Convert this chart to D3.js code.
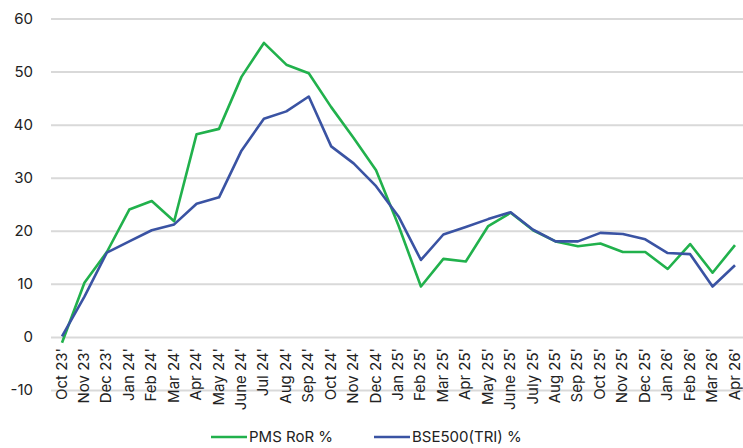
<!DOCTYPE html>
<html>
  <head>
    <meta charset="utf-8">
    <style>
      body {margin: 0; background: #fff;}
      * {font-family: "Inter", sans-serif;}
    </style>
    <script src="https://d3js.org/d3.v7.min.js"></script>
  </head>
  <body>
    <div id="chart"></div>
    <script>
      const months = ["Oct 23'", "Nov 23'", "Dec 23'", "Jan 24'", "Feb 24'", "Mar 24'", "Apr 24'", "May 24'",
                      "June 24'", "Jul 24'", "Aug 24'", "Sep 24'", "Oct 24'", "Nov 24'", "Dec 24'", "Jan 25'",
                      "Feb 25'", "Mar 25'", "Apr 25'", "May 25'", "June 25'", "July 25'", "Aug 25'", "Sep 25'",
                      "Oct 25'", "Nov 25'", "Dec 25'", "Jan 26'", "Feb 26'", "Mar 26'", "Apr 26'"]
      const pms = [-1.1, 10.2, 16.0, 24.0, 25.6, 21.8, 38.2, 39.2, 49.0, 55.4, 51.3, 49.7, 43.3, 37.5, 31.4, 21.0,
                   9.5, 14.7, 14.2, 20.9, 23.4, 20.1, 18.0, 17.1, 17.6, 16.0, 16.0, 12.8, 17.5, 12.1, 17.3]
      const bse = [0.1, 7.6, 15.9, 18.0, 20.1, 21.2, 25.1, 26.3, 35.1, 41.1, 42.5, 45.3, 35.9, 32.7, 28.4, 22.7,
                   14.5, 19.3, 20.7, 22.2, 23.5, 20.2, 18.0, 18.0, 19.6, 19.4, 18.4, 15.8, 15.6, 9.5, 13.5]
      const yTicks = [-10, 0, 10, 20, 30, 40, 50, 60]
      const seriesNames = ["PMS RoR %", "BSE500(TRI) %"]
      const seriesColors = ["#21b14c", "#3a53a3"]

      const w = 743, h = 448

      const svg = d3.select("#chart").append("svg")
        .attr("width", w).attr("height", h)

      const x = d3.scalePoint().domain(months).range([62, 735])
      const y = d3.scaleLinear().domain([-10, 60]).range([390, 18.5])

      // gridlines + y labels
      const yAxis = svg.append("g")
        .attr("transform", "translate(51,0)")
        .call(d3.axisLeft(y).tickValues(yTicks).tickSize(-(w - 51)).tickPadding(18).tickFormat(d => String(d)))
      yAxis.select(".domain").remove()
      yAxis.selectAll(".tick line").attr("stroke", "#d9d9d9").attr("stroke-width", 2)
      yAxis.selectAll(".tick text").attr("fill", "#222").style("font-size", "15px")

      // category labels under the zero line
      svg.append("g").selectAll("text")
        .data(months)
        .join("text")
          .attr("transform", d => "translate(" + x(d) + "," + (y(0) + 11) + ") rotate(-90)")
          .attr("text-anchor", "end")
          .attr("dy", "0.3em")
          .attr("fill", "#222")
          .style("font-size", "15px")
          .text(d => d)

      const line = d3.line()
        .x((d, i) => x(months[i]))
        .y(d => y(d))

      ;[pms, bse].forEach((s, k) => {
        svg.append("path")
          .datum(s)
          .attr("fill", "none")
          .attr("stroke", seriesColors[k])
          .attr("stroke-width", 2.6)
          .attr("stroke-linejoin", "round")
          .attr("d", line)
      })

      // legend
      const legX = [211, 374]
      const legend = svg.append("g")
      seriesNames.forEach((name, k) => {
        legend.append("line")
          .attr("x1", legX[k]).attr("x2", legX[k] + 36)
          .attr("y1", 437).attr("y2", 437)
          .attr("stroke", seriesColors[k]).attr("stroke-width", 2.6)
        legend.append("text")
          .attr("x", legX[k] + 38).attr("y", 437)
          .attr("dy", "0.35em")
          .attr("fill", "#222")
          .style("font-size", "15px")
          .text(name)
      })
    </script>
  </body>
</html>
